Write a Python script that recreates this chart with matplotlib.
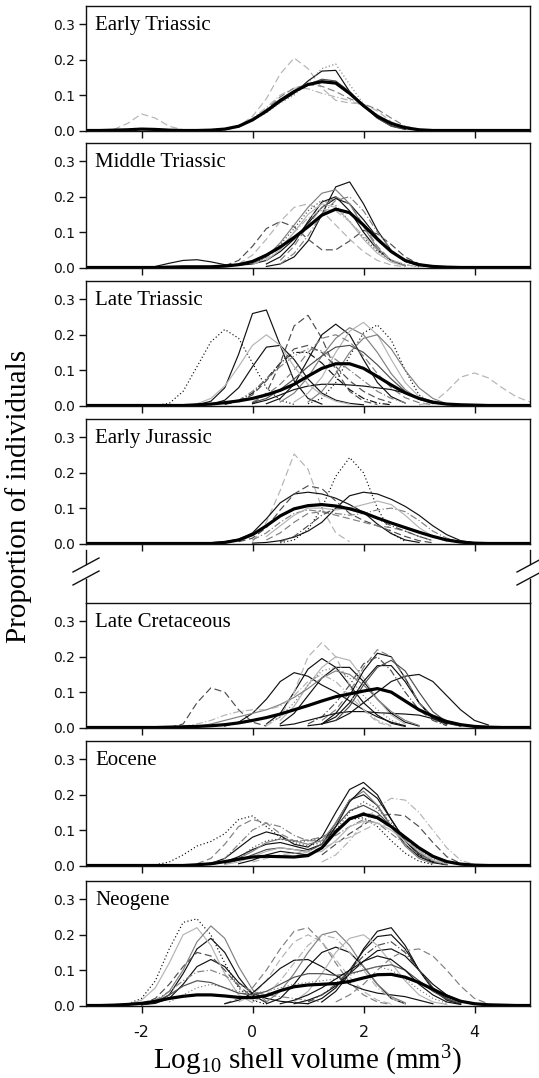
import matplotlib
matplotlib.use("Agg")
import matplotlib.pyplot as plt
import numpy as np
from matplotlib.lines import Line2D

plt.rcParams['axes.unicode_minus'] = False
plt.rcParams['mathtext.fontset'] = 'custom'
plt.rcParams['mathtext.rm'] = 'Liberation Serif'
plt.rcParams['mathtext.it'] = 'Liberation Serif:italic'

# density curves at steps of 0.25 log10 units
STEP = 0.25
GRID = np.arange(-3, 5.001, STEP)

PERIODS = ["Early Triassic", "Middle Triassic", "Late Triassic", "Early Jurassic",
           "Late Cretaceous", "Eocene", "Neogene"]

# ---- Early Triassic
ET_MEAN = [0, 0, 0.001, 0.002, 0.004, 0.003, 0.001, 0, 0, 0.001, 0.004, 0.012, 0.03,
           0.055, 0.085, 0.11, 0.13, 0.138, 0.134, 0.105, 0.07, 0.04, 0.02, 0.008, 0.002,
           0, 0, 0, 0, 0, 0, 0, 0]
ET_CURVES = [
    (-2.5, [0.003, 0.02, 0.047, 0.035, 0.012, 0.002, 0, 0, 0.003, 0.012, 0.04, 0.09, 0.16,
            0.205, 0.175, 0.12, 0.085, 0.078, 0.075, 0.055, 0.025, 0.007, 0.001]),
    (-0.5, [0.004, 0.012, 0.03, 0.052, 0.08, 0.105, 0.14, 0.168, 0.17, 0.11, 0.07, 0.035, 0.013, 0.004]),
    (-0.5, [0.003, 0.01, 0.028, 0.05, 0.078, 0.1, 0.135, 0.175, 0.188, 0.13, 0.075, 0.036, 0.014, 0.005]),
    (-0.5, [0.003, 0.012, 0.035, 0.065, 0.1, 0.12, 0.118, 0.105, 0.095, 0.085, 0.07, 0.045, 0.02, 0.006]),
    (-0.5, [0.004, 0.012, 0.03, 0.055, 0.085, 0.11, 0.13, 0.145, 0.14, 0.11, 0.07, 0.035, 0.012, 0.003]),
    (-0.5, [0.002, 0.01, 0.03, 0.06, 0.095, 0.12, 0.13, 0.125, 0.11, 0.09, 0.075, 0.06, 0.035, 0.012, 0.003]),
]
ET_STYLES = ["l--", "k-", "g:", "l-.", "d-", "g--"]

# ---- Middle Triassic
MT_MEAN = [0, 0, 0, 0, 0, 0, 0.001, 0.002, 0.002, 0.002, 0.004, 0.008, 0.017, 0.035, 0.058,
           0.085, 0.115, 0.148, 0.165, 0.155, 0.12, 0.08, 0.045, 0.02, 0.008, 0.003, 0.001,
           0, 0, 0, 0, 0, 0]
MT_CURVES = [
    (-1.75, [0.003, 0.012, 0.02, 0.022, 0.016, 0.008, 0.006, 0.01, 0.02, 0.045, 0.08, 0.125,
             0.17, 0.195, 0.18, 0.135, 0.085, 0.045, 0.018, 0.006, 0.001]),
    (0.25, [0.003, 0.01, 0.03, 0.075, 0.15, 0.228, 0.242, 0.18, 0.105, 0.048, 0.017, 0.005]),
    (-0.5, [0.005, 0.02, 0.06, 0.11, 0.13, 0.115, 0.08, 0.05, 0.05, 0.075, 0.105, 0.095, 0.065,
            0.03, 0.01, 0.003]),
    (0.0, [0.01, 0.03, 0.07, 0.12, 0.17, 0.21, 0.22, 0.18, 0.115, 0.055, 0.02, 0.006]),
    (-0.25, [0.01, 0.035, 0.08, 0.13, 0.17, 0.18, 0.16, 0.12, 0.08, 0.045, 0.02, 0.007, 0.002]),
    (0.5, [0.01, 0.04, 0.09, 0.15, 0.19, 0.2, 0.16, 0.1, 0.05, 0.018, 0.005]),
    (0.25, [0.01, 0.03, 0.07, 0.13, 0.185, 0.2, 0.16, 0.1, 0.05, 0.02, 0.005]),
    (0.0, [0.01, 0.03, 0.065, 0.11, 0.16, 0.19, 0.175, 0.13, 0.085, 0.045, 0.02, 0.008, 0.002]),
    (0.25, [0.02, 0.05, 0.1, 0.15, 0.18, 0.17, 0.13, 0.08, 0.04, 0.015, 0.004]),
    (0.5, [0.02, 0.06, 0.12, 0.17, 0.2, 0.18, 0.12, 0.06, 0.02, 0.005]),
    (0.0, [0.008, 0.025, 0.055, 0.1, 0.14, 0.165, 0.16, 0.13, 0.09, 0.05, 0.022, 0.008, 0.002]),
]
MT_STYLES = ["k-", "k-", "d--", "g-", "l--", "g-.", "k-", "d:", "l-", "g--", "l-."]

# ---- Late Triassic
LT_MEAN = [0, 0, 0, 0, 0, 0, 0, 0, 0.002, 0.004, 0.008, 0.013, 0.02, 0.03, 0.043, 0.06,
           0.083, 0.105, 0.118, 0.118, 0.105, 0.082, 0.058, 0.036, 0.02, 0.009, 0.004,
           0.002, 0.001, 0, 0, 0, 0]
LT_CURVES = [
    (-1.0, [0.002, 0.012, 0.05, 0.145, 0.26, 0.27, 0.17, 0.07, 0.02, 0.004]),
    (-1.75, [0.001, 0.006, 0.04, 0.11, 0.18, 0.215, 0.19, 0.12, 0.05, 0.015, 0.003]),
    (1.0, [0.005, 0.02, 0.065, 0.14, 0.205, 0.228, 0.185, 0.1, 0.03, 0.005]),
    (-0.75, [0.003, 0.015, 0.05, 0.11, 0.165, 0.17, 0.13, 0.075, 0.035, 0.015, 0.006, 0.002]),
    (-0.5, [0.003, 0.012, 0.035, 0.075, 0.12, 0.15, 0.15, 0.12, 0.08, 0.045, 0.02, 0.007, 0.002]),
    (0.0, [0.005, 0.035, 0.12, 0.225, 0.255, 0.19, 0.1, 0.04, 0.012, 0.003]),
    (0.25, [0.005, 0.02, 0.06, 0.13, 0.2, 0.23, 0.2, 0.13, 0.065, 0.025, 0.007]),
    (0.5, [0.01, 0.035, 0.08, 0.14, 0.19, 0.22, 0.2, 0.15, 0.09, 0.045, 0.018, 0.005]),
    (0.75, [0.01, 0.035, 0.08, 0.15, 0.21, 0.235, 0.2, 0.13, 0.065, 0.025, 0.007]),
    (0.0, [0.01, 0.03, 0.06, 0.1, 0.15, 0.19, 0.2, 0.18, 0.14, 0.09, 0.05, 0.022, 0.008, 0.002]),
    (0.0, [0.008, 0.02, 0.045, 0.075, 0.11, 0.14, 0.165, 0.17, 0.15, 0.115, 0.075, 0.04, 0.018, 0.006]),
    (3.0, [0.002, 0.008, 0.04, 0.08, 0.092, 0.078, 0.05, 0.025, 0.01]),
    (0.0, [0.005, 0.015, 0.03, 0.045, 0.055, 0.06, 0.06, 0.058, 0.055, 0.05, 0.045, 0.035,
           0.022, 0.012, 0.005]),
    (-0.5, [0.005, 0.015, 0.04, 0.075, 0.11, 0.14, 0.16, 0.155, 0.13, 0.1, 0.07, 0.04, 0.02, 0.008]),
    (-1.0, [0.005, 0.02, 0.055, 0.11, 0.17, 0.2, 0.17, 0.11, 0.06, 0.03, 0.012, 0.004]),
    (-0.25, [0.01, 0.03, 0.07, 0.12, 0.16, 0.17, 0.15, 0.11, 0.07, 0.04, 0.02, 0.008]),
    (1.0, [0.01, 0.04, 0.09, 0.15, 0.19, 0.2, 0.16, 0.1, 0.05, 0.02, 0.005]),
]
LT_STYLES = ["k-", "k:", "k:", "k-", "k-.", "d--", "k-", "g-", "l-", "g--", "d-", "l--",
             "k-", "g-.", "l-", "d--", "g-"]

# ---- Early Jurassic
EJ_MEAN = [0, 0, 0, 0, 0, 0, 0, 0, 0, 0, 0.003, 0.01, 0.025, 0.05, 0.078, 0.098, 0.107,
           0.11, 0.106, 0.098, 0.087, 0.072, 0.058, 0.045, 0.032, 0.02, 0.01, 0.004, 0.001,
           0, 0, 0, 0]
EJ_CURVES = [
    (0.0, [0.005, 0.06, 0.15, 0.253, 0.21, 0.1, 0.03, 0.005]),
    (0.5, [0.002, 0.01, 0.04, 0.1, 0.19, 0.243, 0.2, 0.1, 0.03, 0.006]),
    (-0.75, [0.002, 0.005, 0.012, 0.03, 0.07, 0.115, 0.14, 0.145, 0.14, 0.128, 0.11, 0.088,
             0.055, 0.028, 0.01, 0.003]),
    (0.0, [0.001, 0.003, 0.008, 0.018, 0.035, 0.06, 0.1, 0.135, 0.145, 0.14, 0.125, 0.105,
           0.08, 0.05, 0.025, 0.008, 0.002]),
    (-0.25, [0.005, 0.015, 0.045, 0.095, 0.14, 0.163, 0.155, 0.12, 0.085, 0.065, 0.05, 0.035,
             0.02, 0.008, 0.002]),
    (0.0, [0.01, 0.03, 0.06, 0.085, 0.095, 0.09, 0.085, 0.08, 0.085, 0.095, 0.1, 0.09, 0.065,
           0.035, 0.015, 0.005]),
    (0.25, [0.02, 0.05, 0.08, 0.1, 0.1, 0.095, 0.1, 0.11, 0.12, 0.11, 0.08, 0.045, 0.02, 0.006]),
    (0.25, [0.01, 0.03, 0.06, 0.085, 0.09, 0.08, 0.07, 0.06, 0.05, 0.045, 0.035, 0.02, 0.008]),
    (0.5, [0.005, 0.02, 0.05, 0.08, 0.1, 0.1, 0.09, 0.07, 0.05, 0.035, 0.02, 0.008]),
]
EJ_STYLES = ["l--", "k:", "k-", "k-", "d--", "g-.", "l-", "g--", "d-."]

# ---- Late Cretaceous
LC_MEAN = [0, 0, 0, 0, 0, 0, 0.001, 0.002, 0.003, 0.005, 0.008, 0.013, 0.02, 0.028, 0.038,
           0.05, 0.062, 0.075, 0.087, 0.095, 0.103, 0.11, 0.1, 0.075, 0.05, 0.032, 0.017,
           0.008, 0.003, 0.001, 0, 0, 0]
LC_CURVES = [
    (-1.5, [0.0, 0.01, 0.07, 0.112, 0.1, 0.05, 0.015, 0.004]),
    (-0.5, [0.004, 0.015, 0.04, 0.08, 0.13, 0.155, 0.145, 0.12, 0.1, 0.075, 0.05, 0.03, 0.015, 0.005]),
    (0.25, [0.01, 0.04, 0.1, 0.165, 0.195, 0.17, 0.12, 0.07, 0.035, 0.012, 0.003]),
    (0.5, [0.01, 0.04, 0.09, 0.14, 0.17, 0.17, 0.13, 0.08, 0.04, 0.015, 0.004]),
    (0.25, [0.005, 0.03, 0.1, 0.2, 0.24, 0.2, 0.12, 0.05, 0.015, 0.003]),
    (0.5, [0.02, 0.06, 0.12, 0.17, 0.2, 0.19, 0.14, 0.08, 0.035, 0.01]),
    (1.25, [0.01, 0.04, 0.09, 0.16, 0.21, 0.2, 0.14, 0.07, 0.025, 0.008]),
    (1.25, [0.01, 0.03, 0.07, 0.13, 0.175, 0.175, 0.13, 0.07, 0.03, 0.01]),
    (1.0, [0.005, 0.01, 0.02, 0.04, 0.07, 0.1, 0.13, 0.145, 0.15, 0.13, 0.09, 0.05, 0.02, 0.007]),
    (1.25, [0.02, 0.05, 0.1, 0.17, 0.22, 0.2, 0.14, 0.07, 0.025, 0.006]),
    (1.0, [0.01, 0.03, 0.07, 0.12, 0.18, 0.2, 0.16, 0.1, 0.05, 0.02, 0.005]),
    (0.5, [0.005, 0.01, 0.02, 0.03, 0.04, 0.045, 0.045, 0.042, 0.04, 0.038, 0.035, 0.025,
           0.012, 0.004]),
    (-1.0, [0.003, 0.01, 0.02, 0.03, 0.04, 0.05, 0.065, 0.085, 0.11, 0.14, 0.16, 0.15, 0.12,
            0.08, 0.045, 0.02, 0.006]),
    (-1.25, [0.003, 0.01, 0.02, 0.035, 0.045, 0.05, 0.05, 0.06, 0.09, 0.13, 0.15, 0.13, 0.09,
             0.05, 0.02, 0.005]),
    (1.5, [0.02, 0.06, 0.12, 0.17, 0.19, 0.16, 0.1, 0.045, 0.015, 0.004]),
    (0.25, [0.01, 0.03, 0.07, 0.12, 0.16, 0.17, 0.14, 0.09, 0.05, 0.02, 0.006]),
]
LC_STYLES = ["d--", "k-", "k-", "k-", "l--", "l-", "k-", "k-", "k-", "g--", "d-.", "k-",
             "g-", "l-.", "d-", "g:"]

# ---- Eocene
EO_MEAN = [0, 0, 0, 0, 0, 0, 0, 0, 0.002, 0.005, 0.011, 0.018, 0.024, 0.026, 0.025, 0.024,
           0.028, 0.05, 0.095, 0.132, 0.145, 0.135, 0.11, 0.08, 0.05, 0.026, 0.011, 0.004,
           0.001, 0, 0, 0, 0]
EO_CURVES = [
    (-1.0, [0.002, 0.006, 0.02, 0.05, 0.08, 0.095, 0.085, 0.06, 0.052, 0.08, 0.15, 0.215,
            0.235, 0.2, 0.13, 0.07, 0.03, 0.01, 0.003]),
    (-1.75, [0.002, 0.01, 0.03, 0.055, 0.068, 0.09, 0.13, 0.14, 0.11, 0.08, 0.068, 0.07,
             0.08, 0.1, 0.13, 0.135, 0.11, 0.07, 0.035, 0.012, 0.003]),
    (-1.0, [0.005, 0.02, 0.06, 0.11, 0.13, 0.12, 0.09, 0.07, 0.072, 0.08, 0.1, 0.13, 0.15,
            0.14, 0.11, 0.075, 0.04, 0.015, 0.004]),
    (1.25, [0.01, 0.03, 0.07, 0.12, 0.165, 0.19, 0.185, 0.15, 0.1, 0.05, 0.015, 0.003]),
    (1.25, [0.03, 0.06, 0.09, 0.115, 0.14, 0.145, 0.14, 0.11, 0.065, 0.025, 0.006]),
    (-0.75, [0.003, 0.01, 0.025, 0.045, 0.06, 0.065, 0.055, 0.045, 0.06, 0.12, 0.185, 0.2,
             0.17, 0.11, 0.06, 0.025, 0.008, 0.002]),
    (-0.5, [0.005, 0.015, 0.03, 0.045, 0.05, 0.045, 0.04, 0.06, 0.11, 0.155, 0.17, 0.15,
            0.11, 0.07, 0.035, 0.012, 0.003]),
    (-0.5, [0.005, 0.02, 0.04, 0.065, 0.075, 0.07, 0.06, 0.07, 0.12, 0.185, 0.21, 0.17,
            0.11, 0.055, 0.02, 0.005]),
    (-0.25, [0.005, 0.015, 0.03, 0.04, 0.035, 0.03, 0.05, 0.11, 0.18, 0.22, 0.19, 0.13,
             0.07, 0.03, 0.01, 0.003]),
    (-0.75, [0.005, 0.02, 0.06, 0.1, 0.12, 0.11, 0.085, 0.07, 0.07, 0.085, 0.11, 0.13, 0.12,
             0.09, 0.06, 0.03, 0.012, 0.003]),
    (-0.5, [0.003, 0.01, 0.025, 0.04, 0.05, 0.045, 0.035, 0.04, 0.07, 0.11, 0.125, 0.12,
            0.1, 0.07, 0.04, 0.015, 0.004]),
    (-0.5, [0.005, 0.02, 0.05, 0.07, 0.075, 0.065, 0.055, 0.065, 0.1, 0.15, 0.18, 0.16,
            0.12, 0.08, 0.045, 0.02, 0.006]),
    (0.0, [0.01, 0.02, 0.03, 0.035, 0.04, 0.05, 0.065, 0.08, 0.1, 0.12, 0.11, 0.08, 0.045,
           0.02, 0.006]),
]
EO_STYLES = ["k-", "k:", "g--", "l-.", "d--", "k-", "d-", "g-", "k-", "g-.", "l-", "d:", "l--"]

# ---- Neogene
NE_MEAN = [0, 0, 0.001, 0.003, 0.006, 0.012, 0.02, 0.026, 0.03, 0.03, 0.027, 0.023, 0.022,
           0.028, 0.042, 0.053, 0.058, 0.06, 0.062, 0.068, 0.078, 0.087, 0.088, 0.08, 0.065,
           0.046, 0.027, 0.012, 0.005, 0.002, 0.001, 0, 0]
NE_CURVES = [
    (-2.5, [0.001, 0.004, 0.02, 0.07, 0.16, 0.235, 0.245, 0.2, 0.12, 0.05, 0.015, 0.003]),
    (-2.0, [0.002, 0.008, 0.03, 0.09, 0.16, 0.19, 0.15, 0.08, 0.03, 0.008]),
    (-2.0, [0.002, 0.006, 0.02, 0.06, 0.11, 0.13, 0.11, 0.065, 0.035, 0.02, 0.012, 0.008, 0.005]),
    (-2.25, [0.003, 0.015, 0.05, 0.12, 0.2, 0.22, 0.17, 0.09, 0.03, 0.008]),
    (-2.0, [0.005, 0.02, 0.06, 0.11, 0.15, 0.14, 0.1, 0.055, 0.025, 0.01]),
    (-1.75, [0.01, 0.04, 0.1, 0.18, 0.225, 0.19, 0.11, 0.045, 0.012]),
    (-2.0, [0.005, 0.015, 0.04, 0.07, 0.095, 0.1, 0.085, 0.06, 0.04, 0.03, 0.025, 0.02, 0.015, 0.01]),
    (-0.5, [0.005, 0.02, 0.05, 0.1, 0.16, 0.21, 0.22, 0.18, 0.12, 0.065, 0.03, 0.01, 0.003]),
    (-0.25, [0.01, 0.03, 0.07, 0.13, 0.18, 0.2, 0.18, 0.13, 0.08, 0.04, 0.015, 0.005]),
    (-0.5, [0.005, 0.015, 0.035, 0.07, 0.105, 0.128, 0.13, 0.11, 0.085, 0.06, 0.045, 0.035,
            0.03, 0.025, 0.015, 0.005]),
    (0.25, [0.005, 0.02, 0.06, 0.11, 0.15, 0.165, 0.15, 0.11, 0.06, 0.02, 0.005]),
    (0.25, [0.01, 0.04, 0.09, 0.15, 0.2, 0.21, 0.17, 0.11, 0.06, 0.025, 0.008]),
    (1.25, [0.01, 0.04, 0.09, 0.16, 0.21, 0.22, 0.17, 0.1, 0.045, 0.015, 0.004]),
    (1.0, [0.005, 0.02, 0.05, 0.1, 0.155, 0.195, 0.2, 0.16, 0.1, 0.05, 0.018, 0.005]),
    (0.75, [0.005, 0.015, 0.03, 0.055, 0.09, 0.125, 0.155, 0.16, 0.14, 0.1, 0.06, 0.03,
            0.012, 0.003]),
    (1.5, [0.01, 0.03, 0.06, 0.1, 0.135, 0.155, 0.16, 0.14, 0.1, 0.055, 0.02, 0.005]),
    (0.75, [0.01, 0.04, 0.09, 0.15, 0.19, 0.2, 0.17, 0.12, 0.07, 0.03, 0.01, 0.003]),
    (1.0, [0.01, 0.03, 0.06, 0.1, 0.14, 0.17, 0.18, 0.15, 0.1, 0.05, 0.02, 0.005]),
    (-2.0, [0.003, 0.01, 0.03, 0.055, 0.07, 0.065, 0.05, 0.035, 0.03, 0.04, 0.06, 0.08,
            0.09, 0.09, 0.085, 0.09, 0.1, 0.11, 0.115, 0.1, 0.07, 0.04, 0.018, 0.006]),
    (-1.5, [0.01, 0.03, 0.05, 0.06, 0.05, 0.04, 0.035, 0.04, 0.05, 0.06, 0.065, 0.07, 0.075,
            0.085, 0.1, 0.11, 0.1, 0.075, 0.045, 0.02, 0.006]),
    (0.0, [0.01, 0.03, 0.07, 0.12, 0.17, 0.2, 0.19, 0.15, 0.1, 0.05, 0.02, 0.005]),
    (0.5, [0.005, 0.015, 0.03, 0.05, 0.075, 0.1, 0.125, 0.14, 0.13, 0.1, 0.06, 0.03, 0.01, 0.003]),
]
NE_STYLES = ["k:", "k-", "k-", "l-", "d--", "g-", "g-.", "g--", "l--", "k-", "k-", "g-",
             "k-", "k-", "k-", "g--", "l-", "d-.", "d-", "g:", "l-.", "k-"]

MEANS = [ET_MEAN, MT_MEAN, LT_MEAN, EJ_MEAN, LC_MEAN, EO_MEAN, NE_MEAN]
CURVES = [ET_CURVES, MT_CURVES, LT_CURVES, EJ_CURVES, LC_CURVES, EO_CURVES, NE_CURVES]
STYLES = [ET_STYLES, MT_STYLES, LT_STYLES, EJ_STYLES, LC_STYLES, EO_STYLES, NE_STYLES]

COLORS = {"k": "#111111", "d": "#4d4d4d", "g": "#808080", "l": "#b4b4b4"}
DASHES = {"-": "-", "--": (0, (6, 3)), "-.": (0, (6, 2, 1, 2)), ":": (0, (1, 2))}

W, H = 539, 1078
fig = plt.figure(figsize=(W / 100, H / 100), dpi=100)

# panel tops in pixels (gap for the axis break between panel 4 and 5)
tops = [6, 143, 281, 419, 603, 741, 881]
ph = 124.5
left, pw = 86, 444


def fx(px):
    return px / W


def fy(py):
    return 1 - py / H


for i, title in enumerate(PERIODS):
    ax = fig.add_axes([fx(left), fy(tops[i] + ph), pw / W, ph / H])
    for (x0, vals), st in zip(CURVES[i], STYLES[i]):
        xs = x0 + STEP * np.arange(len(vals))
        ax.plot(xs, vals, color=COLORS[st[0]], ls=DASHES[st[1:]], lw=0.85)
    assert len(MEANS[i]) == len(GRID)
    ax.plot(GRID, MEANS[i], color='black', lw=2.3, solid_capstyle='butt')

    ax.set_xlim(-3, 5)
    ax.set_ylim(0, 0.352)
    ax.set_yticks([0, 0.1, 0.2, 0.3])
    ax.set_yticklabels(["0.0", "0.1", "0.2", "0.3"])
    ax.set_xticks([-2, 0, 2, 4])
    ax.tick_params(direction='out', length=5, width=1, labelsize=10, pad=3, colors='#111111')
    ax.tick_params(axis='x', pad=9, labelsize=11.5)
    if i < len(PERIODS) - 1:
        ax.tick_params(axis='x', labelbottom=False)
    for sp in ax.spines.values():
        sp.set_linewidth(1.0)
        sp.set_color('#111111')
    ax.text(0.02, 0.81, title, transform=ax.transAxes, fontsize=15,
            family='Liberation Serif', va='baseline', ha='left')

# axis break between Early Jurassic and Late Cretaceous
for xs in (left, left + pw):
    fig.add_artist(Line2D([fx(xs), fx(xs)], [fy(550), fy(564)], color='#111111', lw=1.0))
    fig.add_artist(Line2D([fx(xs), fx(xs)], [fy(579), fy(603)], color='#111111', lw=1.0))
    for yc in (565, 578):
        fig.add_artist(Line2D([fx(xs - 13), fx(xs + 13)], [fy(yc + 7), fy(yc - 7)],
                              color='#111111', lw=1.0))

fig.text(fx(19), fy(496), "Proportion of individuals", rotation=90, ha='center',
         va='center', fontsize=21, family='Liberation Serif')
fig.text(fx(left + pw / 2), fy(1069), r"Log$_{10}$ shell volume (mm$^3$)", ha='center',
         va='baseline', fontsize=21, family='Liberation Serif')

fig.savefig('out.png', dpi=100)
